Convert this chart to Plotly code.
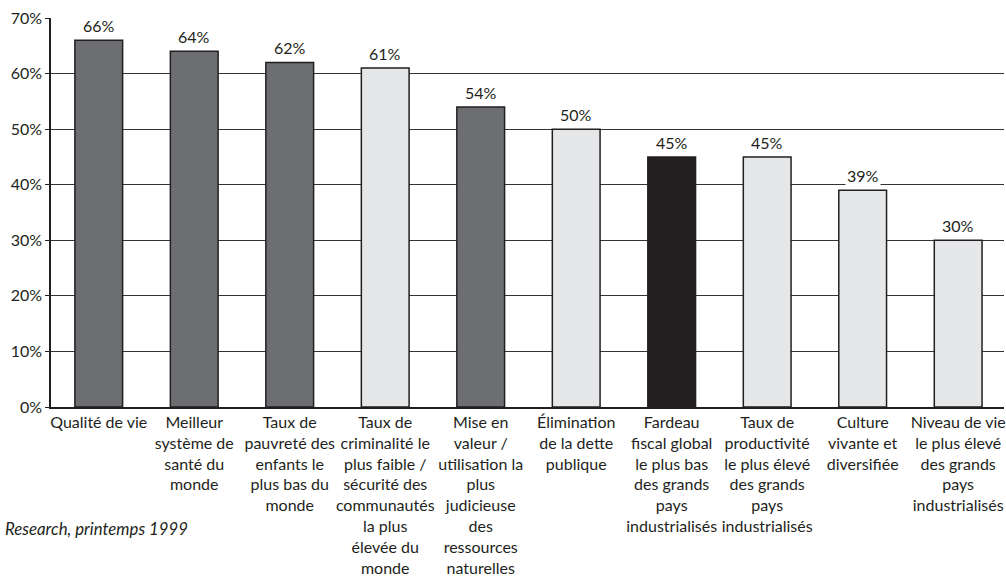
import plotly.graph_objects as go

categories = [
    "Qualité de vie",
    "Meilleur<br>système de<br>santé du<br>monde",
    "Taux de<br>pauvreté des<br>enfants le<br>plus bas du<br>monde",
    "Taux de<br>criminalité le<br>plus faible /<br>sécurité des<br>communautés<br>la plus<br>élevée du<br>monde",
    "Mise en<br>valeur /<br>utilisation la<br>plus<br>judicieuse<br>des<br>ressources<br>naturelles",
    "Élimination<br>de la dette<br>publique",
    "Fardeau<br>fiscal global<br>le plus bas<br>des grands<br>pays<br>industrialisés",
    "Taux de<br>productivité<br>le plus élevé<br>des grands<br>pays<br>industrialisés",
    "Culture<br>vivante et<br>diversifiée",
    "Niveau de vie<br>le plus élevé<br>des grands<br>pays<br>industrialisés",
]
values = [66, 64, 62, 61, 54, 50, 45, 45, 39, 30]
bar_colors = ["#6d6e71", "#6d6e71", "#6d6e71", "#e6e7e8", "#6d6e71",
              "#e6e7e8", "#231f20", "#e6e7e8", "#e6e7e8", "#e6e7e8"]
y_ticks = [0, 10, 20, 30, 40, 50, 60, 70]
y_ticklabels = [f"{v}%" for v in y_ticks]
source_text = "Research, printemps 1999"

FONT = "Lato"
TXT = "#231f20"
idx = list(range(len(categories)))

fig = go.Figure()
fig.add_trace(go.Bar(
    x=idx, y=values,
    marker=dict(color=bar_colors, line=dict(color="#231f20", width=1.5)),
    width=0.5,
    hoverinfo="skip",
))

for i, v in zip(idx, values):
    fig.add_annotation(
        x=i, y=v, xref="x", yref="y", text=f"{v}%",
        showarrow=False, yanchor="bottom", yshift=3,
        bgcolor="white", borderpad=1,
        font=dict(family=FONT, size=16, color=TXT),
    )

fig.add_annotation(
    x=0.1455, y=-0.3117, xref="paper", yref="paper", text=f"<i>{source_text}</i>",
    showarrow=False, xanchor="right", yanchor="middle",
    font=dict(family=FONT, size=16.8, color=TXT),
)

fig.update_layout(
    width=1006, height=582,
    margin=dict(l=51, r=0, t=17.5, b=175.3),
    plot_bgcolor="white", paper_bgcolor="white",
    showlegend=False,
    font=dict(family=FONT, size=16, color=TXT),
    xaxis=dict(
        tickmode="array", tickvals=idx, ticktext=categories,
        range=[-0.5, 9.48], showgrid=False, zeroline=False,
        showline=True, linecolor="#231f20", linewidth=1.5,
        ticks="", tickangle=0, ticklabeloverflow="allow",
        tickfont=dict(family=FONT, size=16, color=TXT),
    ),
    yaxis=dict(
        range=[0, 70], tickmode="array", tickvals=y_ticks, ticktext=y_ticklabels,
        showgrid=True, gridcolor="#333333", gridwidth=1,
        zeroline=False, showline=True, linecolor="#231f20", linewidth=1.5,
        ticks="outside", ticklen=4, tickcolor="#231f20",
        tickfont=dict(family=FONT, size=16, color=TXT),
    ),
)

fig.write_html("out.html")
